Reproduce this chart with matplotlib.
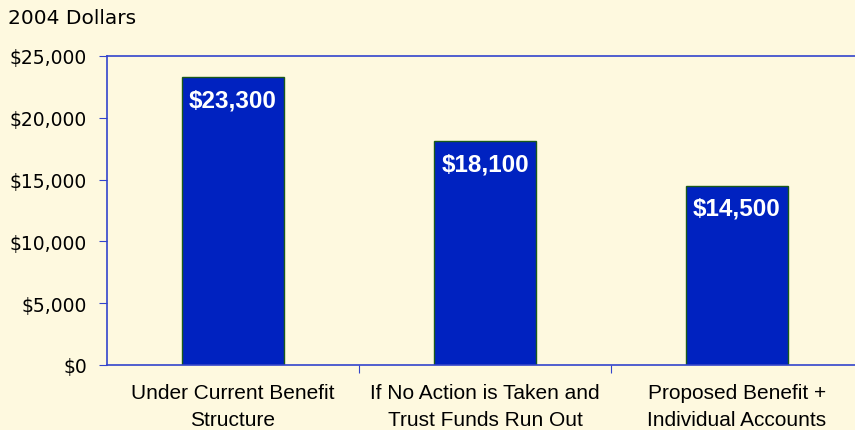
import numpy as np
import matplotlib.pyplot as plt

categories = ['Under Current Benefit\nStructure',
              'If No Action is Taken and\nTrust Funds Run Out',
              'Proposed Benefit +\nIndividual Accounts']
values = [23300, 18100, 14500]
value_labels = ['$23,300', '$18,100', '$14,500']
yticks = [0, 5000, 10000, 15000, 20000, 25000]
ytick_labels = ['$0', '$5,000', '$10,000', '$15,000', '$20,000', '$25,000']

bg = '#fef9df'
bar_color = '#0022c0'
axis_color = '#3344cc'

fig = plt.figure(figsize=(8.55, 4.31), dpi=100, facecolor=bg)
# axes runs a bit past the right edge, as in the original
ax = fig.add_axes([107 / 855, 65 / 431, 756 / 855, 309 / 431], facecolor=bg)

x = np.arange(len(values))
ax.bar(x, values, width=0.405, color=bar_color, edgecolor='#1a5a1a', linewidth=1, zorder=2)

for xi, v, lab in zip(x, values, value_labels):
    ax.annotate(lab, (xi, v), xytext=(0, -8), textcoords='offset points',
                ha='center', va='top', color='white', fontsize=17.5,
                fontweight='bold', family='Liberation Sans', zorder=3)

ax.set_xlim(-0.5, 2.5)
ax.set_ylim(0, 25000)
ax.set_yticks(yticks)
ax.set_yticklabels(ytick_labels, family='DejaVu Sans', fontsize=13.5)

ax.set_xticks([0.5, 1.5])
ax.set_xticklabels([])
ax.set_xticks(x, minor=True)
ax.set_xticklabels(categories, minor=True, family='Liberation Sans', fontsize=15,
                   linespacing=1.5)
ax.tick_params(axis='x', which='minor', length=0, pad=13)
ax.tick_params(axis='x', which='major', length=6, color=axis_color, direction='out')
ax.tick_params(axis='y', length=6, color=axis_color, pad=8.5)

for side in ['left', 'bottom', 'top']:
    ax.spines[side].set_color(axis_color)
    ax.spines[side].set_linewidth(1.2)
ax.spines['right'].set_visible(False)

fig.text(8 / 855, 1 - 18 / 431, '2004 Dollars', family='DejaVu Sans', fontsize=14.5,
         va='center', ha='left')

fig.savefig('out.png', dpi=100, facecolor=bg)
